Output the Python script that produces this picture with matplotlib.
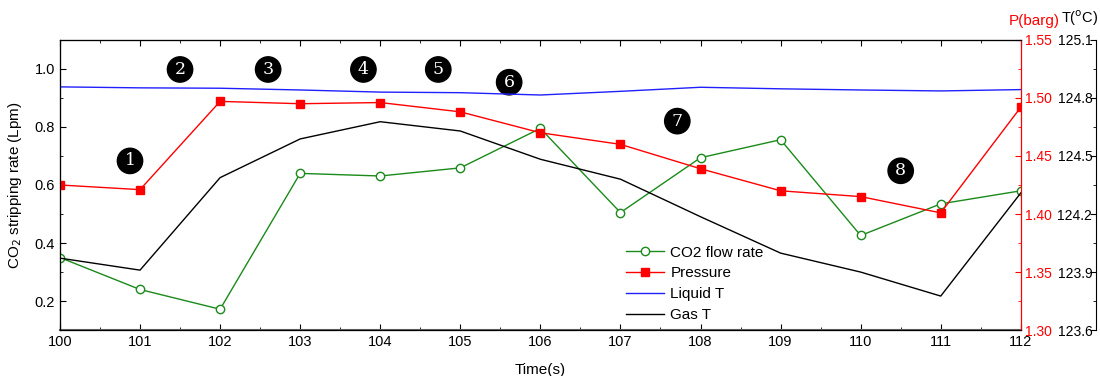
import matplotlib.pyplot as plt
from matplotlib.ticker import MultipleLocator

plt.rcParams.update({
    "font.family": ["Liberation Sans", "DejaVu Sans"],
    "font.size": 10,
    "xtick.direction": "in",
    "ytick.direction": "in",
})

time = [100, 101, 102, 103, 104, 105, 106, 107, 108, 109, 110, 111, 112]
co2_flow = [0.35, 0.24, 0.172, 0.64, 0.631, 0.659, 0.795, 0.505, 0.694, 0.756, 0.426, 0.535, 0.58]
pressure = [1.425, 1.421, 1.497, 1.495, 1.496, 1.488, 1.470, 1.460, 1.439, 1.420, 1.415, 1.401, 1.492]
liquid_t = [124.857, 124.852, 124.85, 124.841, 124.83, 124.827, 124.815, 124.834, 124.855,
            124.847, 124.841, 124.836, 124.843]
gas_t = [123.972, 123.91, 124.388, 124.588, 124.677, 124.629, 124.483, 124.38, 124.186,
         123.998, 123.9, 123.776, 124.309]

stage_labels = ["1", "2", "3", "4", "5", "6", "7", "8"]
stage_x = [100.875, 101.5, 102.6, 103.79, 104.725, 105.61, 107.71, 110.5]
stage_y = [0.683, 0.998, 0.998, 0.998, 0.998, 0.954, 0.82, 0.649]

fig = plt.figure(figsize=(11, 3.76), dpi=100)
ax = fig.add_axes([0.0545, 0.122, 0.8735, 0.772])
axp = ax.twinx()
axt = ax.twinx()
# second temperature axis sits ~76 px right of the pressure axis
axt.spines["right"].set_position(("outward", 54.5))

l_co2, = ax.plot(time, co2_flow, color="#1a8a1a", lw=1, marker="o", ms=6,
                 mfc="white", mec="#1a8a1a", mew=1, label="CO2 flow rate", zorder=5)
l_p, = axp.plot(time, pressure, color="red", lw=1, marker="s", ms=5.5,
                label="Pressure", zorder=4)
l_liq, = axt.plot(time, liquid_t, color="#2020ff", lw=1, label="Liquid T")
l_gas, = axt.plot(time, gas_t, color="black", lw=1, label="Gas T")

ax.set_xlim(100, 112)
ax.set_ylim(0.1, 1.1)
axp.set_ylim(1.30, 1.55)
axt.set_ylim(123.6, 125.1)

ax.xaxis.set_major_locator(MultipleLocator(1))
ax.xaxis.set_minor_locator(MultipleLocator(0.5))
ax.yaxis.set_major_locator(MultipleLocator(0.2))
ax.yaxis.set_minor_locator(MultipleLocator(0.1))
axp.yaxis.set_major_locator(MultipleLocator(0.05))
axp.yaxis.set_minor_locator(MultipleLocator(0.025))
axp.yaxis.set_major_formatter(lambda v, pos: f"{v:.2f}")
axt.yaxis.set_major_locator(MultipleLocator(0.3))
axt.yaxis.set_minor_locator(MultipleLocator(0.15))
axt.yaxis.set_major_formatter(lambda v, pos: f"{v:.1f}")

ax.tick_params(which="major", length=4, labelsize=10.5)
ax.tick_params(which="minor", length=2.5)
for a in (axp, axt):
    a.tick_params(which="major", length=4, labelsize=10)
    a.tick_params(which="minor", length=2.5)
ax.tick_params(axis="x", which="both", top=True)
ax.spines["bottom"].set_color("#666666")
ax.spines["bottom"].set_linewidth(1.5)

axp.spines["right"].set_color("red")
axp.tick_params(axis="y", which="both", colors="red", pad=3)

# temperature tick labels sit on the inner side of their spine
axt.tick_params(axis="y", which="major", pad=-3)
plt.setp(axt.get_yticklabels(), ha="right")

ax.set_xlabel("Time(s)", fontsize=11, labelpad=10)
ax.set_ylabel("CO$_2$ stripping rate (Lpm)", fontsize=11, labelpad=8)
fig.text(0.9635, 0.925, "P(barg)", color="red", fontsize=11, ha="right", va="bottom")
fig.text(0.9985, 0.925, "T($^{\\rm o}$C)", color="black", fontsize=10.5, ha="right", va="bottom")

for lab, x, y in zip(stage_labels, stage_x, stage_y):
    ax.text(x, y, lab, color="white", fontsize=12.5, family="DejaVu Serif",
            ha="center", va="center", zorder=10,
            bbox=dict(boxstyle="circle,pad=0.24", fc="black", ec="black"))

ax.legend(handles=[l_co2, l_p, l_liq, l_gas], loc="lower left",
          bbox_to_anchor=(0.575, -0.02), frameon=False, fontsize=11,
          handlelength=2.5, handletextpad=0.4, labelspacing=0.45)

fig.savefig("out.png", dpi=100)
